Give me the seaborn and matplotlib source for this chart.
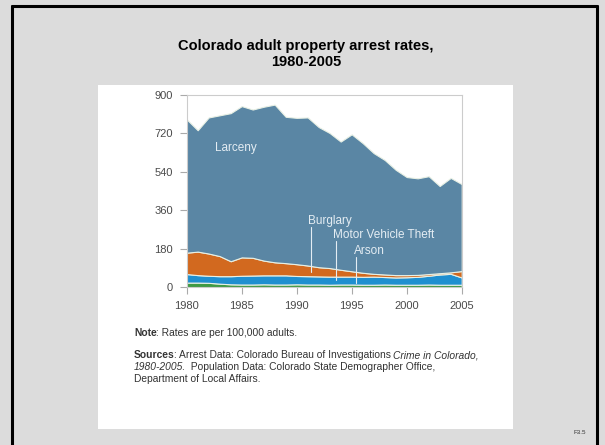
import matplotlib
matplotlib.use("Agg")
import matplotlib.pyplot as plt
import numpy as np
import pandas as pd
import seaborn as sns
from matplotlib.patches import Rectangle
from matplotlib.lines import Line2D

# Arrest rates per 100,000 adults
years = list(range(1980, 2006))
larceny = [624, 568, 637, 659, 693, 708, 694, 720, 738, 685, 685, 693, 656,
           632, 600, 641, 607, 565, 536, 493, 459, 452, 458, 408, 442, 407]
burglary = [100, 110, 104, 94, 70, 86, 83, 69, 61, 57, 55, 50, 43,
            40, 32, 25, 19, 13, 12, 11, 10, 9, 8, 6, 7, 30]
mvt = [40, 35, 33, 35, 38, 41, 42, 42, 43, 43, 39, 39, 38,
       38, 37, 37, 37, 38, 35, 34, 35, 37, 41, 48, 51, 34]
arson = [22, 22, 21, 17, 14, 13, 13, 14, 13, 13, 14, 13, 13,
         12, 13, 13, 12, 12, 13, 12, 12, 12, 13, 12, 12, 12]
yticks = [0, 180, 360, 540, 720, 900]
xticks = [1980, 1985, 1990, 1995, 2000, 2005]

df = pd.DataFrame({"year": years, "Arson": arson, "Motor Vehicle Theft": mvt,
                   "Burglary": burglary, "Larceny": larceny})

sns.set_theme(style="white")
plt.rcParams["font.family"] = ["Liberation Sans", "DejaVu Sans"]

W, H = 605, 445
fig = plt.figure(figsize=(W / 100, H / 100), dpi=100)
fig.patch.set_facecolor("#dcdcdc")

# slide frame and white panel
fig.add_artist(Rectangle((98 / W, 1 - 429 / H), (513 - 98) / W, (429 - 85) / H,
                         transform=fig.transFigure, facecolor="white",
                         edgecolor="none", zorder=0))
for xs, ys in [([12, 12], [6, 450]), ([12, 597], [6, 6]), ([597, 597], [6, 450])]:
    fig.add_artist(Line2D([x / W for x in xs], [1 - y / H for y in ys],
                          transform=fig.transFigure, color="black", lw=2.2))

ax = fig.add_axes([186.7 / W, 1 - 287.3 / H, (461.7 - 186.7) / W, (287.3 - 95) / H])
ax.set_facecolor("white")

colors = ["#3f9a45", "#1f8fd0", "#d2691f", "#5a86a4"]
ax.stackplot(df["year"], df["Arson"], df["Motor Vehicle Theft"], df["Burglary"],
             df["Larceny"], colors=colors, edgecolor="#e8f0e4", linewidth=0.8)

ax.set_xlim(1980, 2005)
ax.set_ylim(0, 900)
ax.set_xticks(xticks)
ax.set_yticks(yticks)
ax.tick_params(axis="both", labelsize=8, colors="#aaaaaa",
               length=5, width=0.8, direction="out", left=True, bottom=True)
ax.tick_params(axis="y", pad=5)
ax.tick_params(axis="x", pad=5)
for lab in ax.get_xticklabels() + ax.get_yticklabels():
    lab.set_color("#4a4a4a")
for sp in ax.spines.values():
    sp.set_color("#cccccc")
    sp.set_linewidth(0.8)
ax.set_xlabel("")
ax.set_ylabel("")

# area labels with pointer lines
lab_col = "#e4edf3"
ax.text(1982.6, 650, "Larceny", color=lab_col, fontsize=8.5, va="center")
ax.text(1991.0, 310, "Burglary", color=lab_col, fontsize=8.5, va="center")
ax.text(1993.3, 245, "Motor Vehicle Theft", color=lab_col, fontsize=8.5, va="center")
ax.text(1995.2, 172, "Arson", color=lab_col, fontsize=8.5, va="center")
ax.plot([1991.3, 1991.3], [280, 72], color=lab_col, lw=0.8)
ax.plot([1993.6, 1993.6], [215, 34], color=lab_col, lw=0.8)
ax.plot([1995.4, 1995.4], [140, 18], color=lab_col, lw=0.8)

fig.text(306 / W, 1 - 54 / H, "Colorado adult property arrest rates,\n1980-2005",
         ha="center", va="center", fontsize=10.5, fontweight="bold",
         linespacing=1.25, color="black")

renderer = fig.canvas.get_renderer()


def rich_line(x, y, parts, size=7.4):
    xp = x
    for s, weight, style in parts:
        t = fig.text(xp / W, 1 - y / H, s, fontsize=size, fontweight=weight,
                     fontstyle=style, color="#333333", va="center")
        xp += t.get_window_extent(renderer).width - 1


rich_line(134, 333, [("Note", "bold", "normal"),
                     (": Rates are per 100,000 adults.", "normal", "normal")])
rich_line(134, 355, [("Sources", "bold", "normal"),
                     (": Arrest Data: Colorado Bureau of Investigations ", "normal", "normal"),
                     ("Crime in Colorado,", "normal", "italic")])
rich_line(134, 367, [("1980-2005.", "normal", "italic"),
                     ("  Population Data: Colorado State Demographer Office,", "normal", "normal")])
rich_line(134, 379, [("Department of Local Affairs.", "normal", "normal")])

fig.text(580 / W, 1 - 433 / H, "F3.5", fontsize=4.5, color="#333333",
         ha="center", va="center")

fig.savefig("out.png", dpi=100, facecolor=fig.get_facecolor())
